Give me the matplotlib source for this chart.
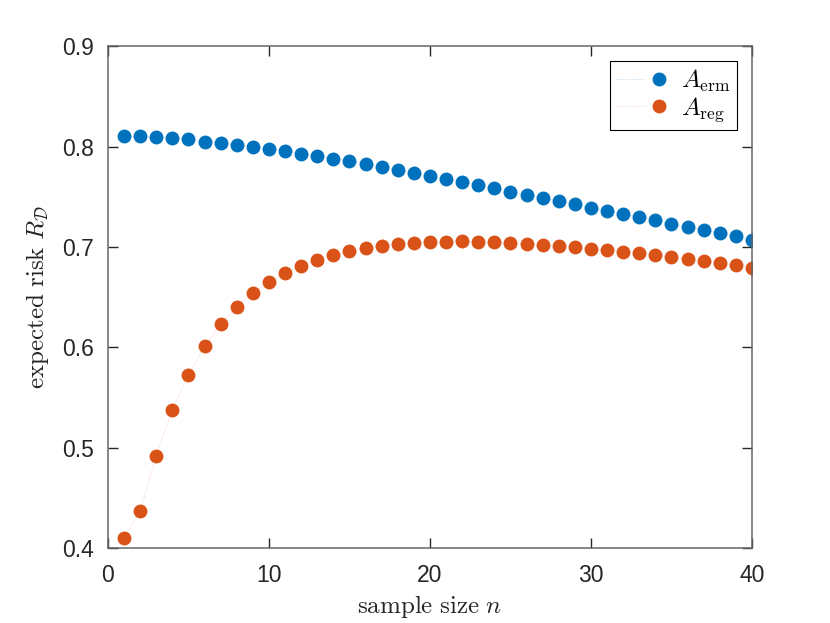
import numpy as np
import matplotlib
matplotlib.use('Agg')
import matplotlib.pyplot as plt
from matplotlib.legend_handler import HandlerTuple

# sample sizes and expected risk for the two learners
n = np.arange(1, 41)
risk_erm = [0.810, 0.810, 0.809, 0.808, 0.807, 0.805, 0.804, 0.802, 0.800, 0.798,
            0.796, 0.793, 0.791, 0.788, 0.786, 0.783, 0.780, 0.777, 0.774, 0.771,
            0.768, 0.765, 0.762, 0.759, 0.755, 0.752, 0.749, 0.746, 0.743, 0.739,
            0.736, 0.733, 0.730, 0.727, 0.723, 0.720, 0.717, 0.714, 0.711, 0.707]
risk_reg = [0.410, 0.437, 0.492, 0.538, 0.573, 0.601, 0.623, 0.640, 0.654, 0.665,
            0.674, 0.681, 0.687, 0.692, 0.696, 0.699, 0.701, 0.703, 0.704, 0.705,
            0.705, 0.706, 0.705, 0.705, 0.704, 0.703, 0.702, 0.701, 0.700, 0.698,
            0.697, 0.695, 0.694, 0.692, 0.690, 0.688, 0.686, 0.684, 0.682, 0.679]
labels = [r'$A_{\mathrm{erm}}$', r'$A_{\mathrm{reg}}$']
colors = ['#0072BD', '#D95319']

plt.rcParams['mathtext.fontset'] = 'cm'
plt.rcParams['font.family'] = ['Liberation Sans', 'DejaVu Sans']

fig = plt.figure(figsize=(8.3, 6.23), dpi=100)
ax = fig.add_axes([0.130, 0.120, 0.776, 0.806])

handles = []
for vals, lab, c in zip([risk_erm, risk_reg], labels, colors):
    ln, = ax.plot(n, vals, linestyle=':', linewidth=0.6, color=c, alpha=0.35)
    mk, = ax.plot(n, vals, linestyle='none', marker='o', markersize=10,
                  color=c, markeredgewidth=0)
    handles.append((ln, mk))

ax.set_xlim(0, 40)
ax.set_ylim(0.4, 0.9)
ax.set_xticks([0, 10, 20, 30, 40])
ax.set_yticks([0.4, 0.5, 0.6, 0.7, 0.8, 0.9])
ax.set_yticklabels(['0.4', '0.5', '0.6', '0.7', '0.8', '0.9'])
ax.tick_params(axis='x', pad=11)
ax.tick_params(axis='y', pad=10)

ax.tick_params(direction='in', length=7, width=1, colors='#262626',
               labelsize=16.5, top=True, right=True)
for s in ax.spines.values():
    s.set_color('#666666')
    s.set_linewidth(1.1)

ax.set_xlabel(r'$\mathrm{sample\ size}\ n$', fontsize=18, color='#262626', labelpad=5)
ax.set_ylabel(r'$\mathrm{expected\ risk}\ R_{\mathcal{D}}$', fontsize=18,
              color='#262626', labelpad=8)

leg = ax.legend(handles, labels, loc='upper right', fontsize=18, fancybox=False,
                framealpha=1, edgecolor='#000000', borderpad=0.25,
                handlelength=2.3, handletextpad=0.3, labelspacing=0.05,
                borderaxespad=0.6,
                handler_map={tuple: HandlerTuple(ndivide=None, pad=0)})
leg.get_frame().set_linewidth(0.8)

fig.savefig('out.png', dpi=100)
